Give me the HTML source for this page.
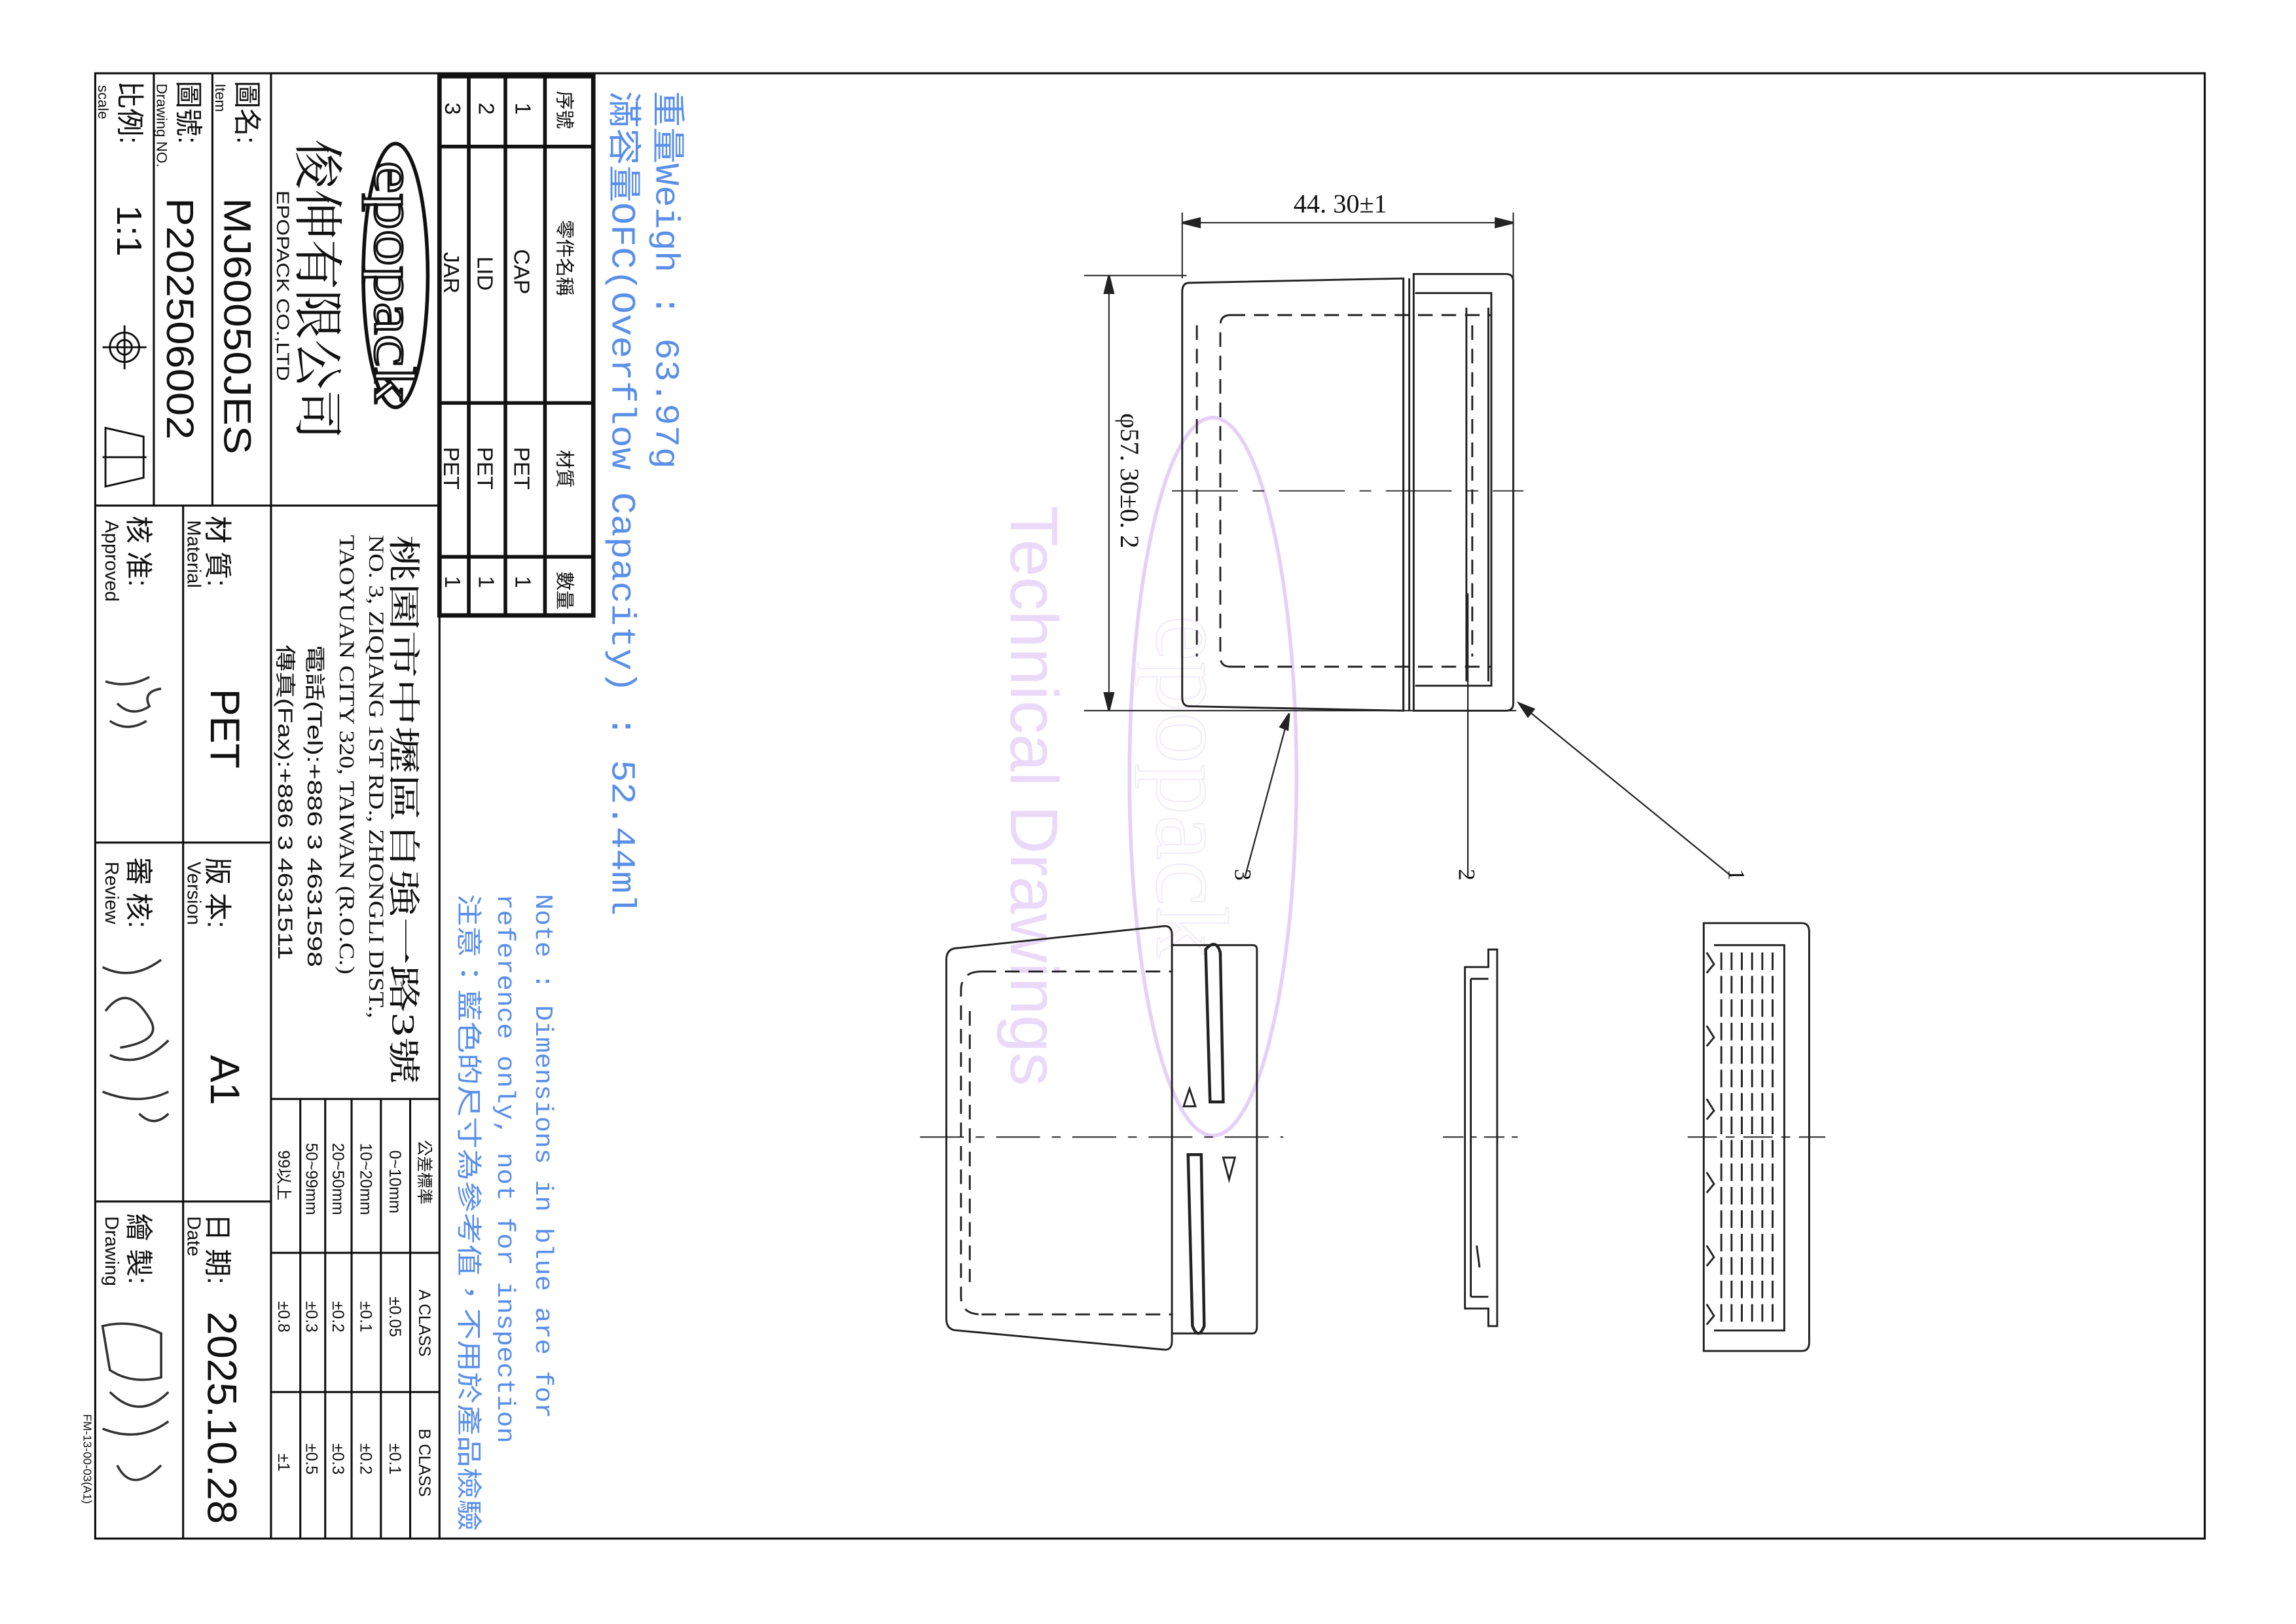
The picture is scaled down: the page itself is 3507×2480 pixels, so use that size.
<!DOCTYPE html>
<html><head><meta charset="utf-8"><style>
html,body{margin:0;padding:0;background:#fff;}
svg{display:block}
text{font-family:"Liberation Sans","Noto Sans CJK TC",sans-serif;fill:#111}
.s{font-family:"Liberation Serif","Noto Serif CJK SC",serif}
.b{fill:#5a8fe8}
.m{font-family:"Liberation Mono","Noto Sans CJK TC",monospace}
</style></head><body>
<svg width="3507" height="2480" viewBox="0 0 1567.3 1108.3" xmlns="http://www.w3.org/2000/svg">
<rect width="1570" height="1110" fill="#fff"/>
<ellipse cx="828" cy="530" rx="57" ry="245" fill="none" stroke="#e6d0f7" stroke-width="2.5"/>
<text transform="translate(690,345) rotate(90)" style="font-size:46px;fill:#ead9f8">Technical Drawings</text>
<text transform="translate(790,420) rotate(90)" style="font-size:70px;fill:none;stroke:#f1e8f8;stroke-width:0.8" class="s">epopack</text>

<g fill="none" stroke="#111" stroke-width="1.4">
<rect x="65" y="50" width="1440" height="1000"/>
<line x1="300" y1="50" x2="300" y2="1050"/>
<line x1="185" y1="50" x2="185" y2="1050"/>
<line x1="145" y1="50" x2="145" y2="345"/>
<line x1="105" y1="50" x2="105" y2="345"/>
<line x1="125" y1="345" x2="125" y2="1050"/>
<line x1="65" y1="345" x2="300" y2="345"/>
<line x1="65" y1="575" x2="185" y2="575"/>
<line x1="65" y1="820" x2="185" y2="820"/>
<line x1="185" y1="750" x2="300" y2="750"/>
<line x1="280" y1="750" x2="280" y2="1050"/>
<line x1="260" y1="750" x2="260" y2="1050"/>
<line x1="240" y1="750" x2="240" y2="1050"/>
<line x1="222" y1="750" x2="222" y2="1050"/>
<line x1="205" y1="750" x2="205" y2="1050"/>
<line x1="185" y1="855" x2="300" y2="855"/>
<line x1="185" y1="950" x2="300" y2="950"/>
<rect x="300" y="52" width="105" height="368" stroke-width="3"/>
<line x1="372" y1="52" x2="372" y2="420" stroke-width="2.5"/>
<line x1="345" y1="52" x2="345" y2="420" stroke-width="2.5"/>
<line x1="320" y1="52" x2="320" y2="420" stroke-width="2.5"/>
<line x1="300" y1="100" x2="405" y2="100" stroke-width="2.5"/>
<line x1="300" y1="275" x2="405" y2="275" stroke-width="2.5"/>
<line x1="300" y1="380" x2="405" y2="380" stroke-width="2.5"/>
</g>

<g>
<text transform="translate(82,55) rotate(90)" style="font-size:19px">比例:</text>
<text transform="translate(67,58) rotate(90)" style="font-size:10px">scale</text>
<text transform="translate(80,140) rotate(90)" style="font-size:24px" textLength="35" lengthAdjust="spacingAndGlyphs">1:1</text>
<text transform="translate(122,55) rotate(90)" style="font-size:19px">圖號:</text>
<text transform="translate(107,57) rotate(90)" style="font-size:10px">Drawing NO.</text>
<text transform="translate(114,135) rotate(90)" style="font-size:26px" textLength="165" lengthAdjust="spacingAndGlyphs">P202506002</text>
<text transform="translate(162,55) rotate(90)" style="font-size:19px">圖名:</text>
<text transform="translate(147,57) rotate(90)" style="font-size:10px">Item</text>
<text transform="translate(153,135) rotate(90)" style="font-size:26px" textLength="175" lengthAdjust="spacingAndGlyphs">MJ60050JES</text>
<text transform="translate(205,95) rotate(90)" style="font-size:34px" class="s" textLength="205" lengthAdjust="spacingAndGlyphs">俊伸有限公司</text>
<text transform="translate(189,130) rotate(90)" style="font-size:12px" textLength="130" lengthAdjust="spacingAndGlyphs">EPOPACK CO.,LTD</text>
<ellipse cx="270" cy="188" rx="22" ry="90" fill="none" stroke="#111" stroke-width="2.5"/>
<text transform="translate(256,110) rotate(90)" style="font-size:40px;fill:#fff;stroke:#111;stroke-width:1.5" class="s" textLength="165" lengthAdjust="spacingAndGlyphs">epopack</text>
</g>
<g fill="none" stroke="#111" stroke-width="1.3">
<circle cx="85" cy="237" r="10"/><circle cx="85" cy="237" r="5"/>
<line x1="70" y1="237" x2="100" y2="237"/><line x1="85" y1="222" x2="85" y2="252"/>
<path d="M72,292 L98,298 L98,326 L72,332 Z"/><line x1="70" y1="312" x2="100" y2="312"/>
</g>
<text transform="translate(142,352) rotate(90)" style="font-size:19px">材 質:</text>
<text transform="translate(128,355) rotate(90)" style="font-size:13px">Material</text>
<text transform="translate(144,470) rotate(90)" style="font-size:28px">PET</text>
<text transform="translate(88,352) rotate(90)" style="font-size:19px">核 准:</text>
<text transform="translate(72,355) rotate(90)" style="font-size:13px">Approved</text>
<text transform="translate(142,585) rotate(90)" style="font-size:19px">版 本:</text>
<text transform="translate(128,588) rotate(90)" style="font-size:13px">Version</text>
<text transform="translate(144,720) rotate(90)" style="font-size:28px">A1</text>
<text transform="translate(88,585) rotate(90)" style="font-size:19px">審 核:</text>
<text transform="translate(72,588) rotate(90)" style="font-size:13px">Review</text>
<text transform="translate(142,828) rotate(90)" style="font-size:19px">日 期:</text>
<text transform="translate(128,830) rotate(90)" style="font-size:13px">Date</text>
<text transform="translate(142,895) rotate(90)" style="font-size:28px" textLength="145" lengthAdjust="spacingAndGlyphs">2025.10.28</text>
<text transform="translate(88,828) rotate(90)" style="font-size:19px">繪 製:</text>
<text transform="translate(72,830) rotate(90)" style="font-size:13px">Drawing</text>
<g fill="none" stroke="#333" stroke-width="1.6">
<path d="M72,465 q15,5 30,-3 M80,480 q10,10 22,2 q-5,-10 8,-12 M75,492 q12,8 25,0"/>
<path d="M70,660 q20,10 40,-5 M72,690 q15,-20 30,5 q10,15 -20,20 M75,720 q20,10 40,-10 M70,745 q25,10 45,0 M95,760 q10,10 20,0"/>
<path d="M70,905 q20,-5 40,5 l0,30 q-20,5 -35,-5 z M75,950 q20,20 40,0 M70,975 q25,10 45,-5 M80,1000 q10,20 30,0"/>
</g>
<text transform="translate(268,365) rotate(90)" style="font-size:22px" class="s" textLength="375" lengthAdjust="spacingAndGlyphs">桃園市中壢區自強一路3號</text>
<text transform="translate(252,365) rotate(90)" style="font-size:14.5px" class="s" textLength="330" lengthAdjust="spacingAndGlyphs">NO. 3, ZIQIANG 1ST RD., ZHONGLI DIST.,</text>
<text transform="translate(232,365) rotate(90)" style="font-size:14.5px" class="s" textLength="300" lengthAdjust="spacingAndGlyphs">TAOYUAN CITY 320, TAIWAN (R.O.C.)</text>
<text transform="translate(210,440) rotate(90)" style="font-size:14px" textLength="220" lengthAdjust="spacingAndGlyphs">電話(Tel):+886 3 4631598</text>
<text transform="translate(190,440) rotate(90)" style="font-size:14px" textLength="215" lengthAdjust="spacingAndGlyphs">傳真(Fax):+886 3 4631511</text>
<g style="font-size:11px" class="s">
<text transform="translate(286,778) rotate(90)">公差標準</text>
<text transform="translate(286,880) rotate(90)">A CLASS</text>
<text transform="translate(286,975) rotate(90)">B CLASS</text>
<text transform="translate(266,785) rotate(90)">0~10mm</text>
<text transform="translate(266,885) rotate(90)">±0.05</text>
<text transform="translate(266,985) rotate(90)">±0.1</text>
<text transform="translate(246,780) rotate(90)">10~20mm</text>
<text transform="translate(246,888) rotate(90)">±0.1</text>
<text transform="translate(246,985) rotate(90)">±0.2</text>
<text transform="translate(227,780) rotate(90)">20~50mm</text>
<text transform="translate(227,888) rotate(90)">±0.2</text>
<text transform="translate(227,985) rotate(90)">±0.3</text>
<text transform="translate(209,780) rotate(90)">50~99mm</text>
<text transform="translate(209,888) rotate(90)">±0.3</text>
<text transform="translate(209,985) rotate(90)">±0.5</text>
<text transform="translate(190,785) rotate(90)">99以上</text>
<text transform="translate(190,888) rotate(90)">±0.8</text>
<text transform="translate(190,992) rotate(90)">±1</text>
</g>
<text transform="translate(57,965) rotate(90)" style="font-size:8px">FM-13-00-03(A1)</text>
<g style="font-size:15px">
<text transform="translate(381,62) rotate(90)" style="font-size:13px">序號</text>
<text transform="translate(381,150) rotate(90)" style="font-size:13px">零件名稱</text>
<text transform="translate(381,307) rotate(90)" style="font-size:13px">材質</text>
<text transform="translate(381,390) rotate(90)" style="font-size:13px">數量</text>
<text transform="translate(352,70) rotate(90)">1</text>
<text transform="translate(351,170) rotate(90)">CAP</text>
<text transform="translate(351,305) rotate(90)">PET</text>
<text transform="translate(352,393) rotate(90)">1</text>
<text transform="translate(327,70) rotate(90)">2</text>
<text transform="translate(326,175) rotate(90)">LID</text>
<text transform="translate(326,305) rotate(90)">PET</text>
<text transform="translate(327,393) rotate(90)">1</text>
<text transform="translate(304,70) rotate(90)">3</text>
<text transform="translate(303,172) rotate(90)">JAR</text>
<text transform="translate(303,305) rotate(90)">PET</text>
<text transform="translate(304,393) rotate(90)">1</text>
</g>
<text class="b m" transform="translate(448,62) rotate(90)" style="font-size:23px" textLength="258" lengthAdjust="spacingAndGlyphs">重量Weigh : 63.97g</text>
<text class="b m" transform="translate(418,62) rotate(90)" style="font-size:23px" textLength="563" lengthAdjust="spacingAndGlyphs">滿容量OFC(Overflow Capacity) : 52.44ml</text>
<text class="b m" transform="translate(366,610) rotate(90)" style="font-size:17px" textLength="358" lengthAdjust="spacingAndGlyphs">Note : Dimensions in blue are for</text>
<text class="b m" transform="translate(340,610) rotate(90)" style="font-size:17px" textLength="375" lengthAdjust="spacingAndGlyphs">reference only, not for inspection</text>
<text class="b" transform="translate(314,610) rotate(90)" style="font-size:17.5px" textLength="435" lengthAdjust="spacingAndGlyphs">注意：藍色的尺寸為參考值，不用於產品檢驗</text>

<g fill="none" stroke="#222" stroke-width="1.3">
<line x1="807" y1="145" x2="807" y2="190" stroke-width="0.9"/>
<line x1="1033" y1="145" x2="1033" y2="190" stroke-width="0.9"/>
<line x1="807" y1="152" x2="1033" y2="152" stroke-width="0.9"/>
<path d="M807,152 l12,-3 v6 z M1033,152 l-12,-3 v6 z" fill="#222"/>
<line x1="740" y1="188" x2="810" y2="188" stroke-width="0.9"/>
<line x1="740" y1="485" x2="1035" y2="485" stroke-width="0.9"/>
<line x1="757" y1="188" x2="757" y2="485" stroke-width="0.9"/>
<path d="M757,188 l-3,12 h6 z M757,485 l-3,-12 h6 z" fill="#222"/>
<path d="M812,193 L958,190 L958,485 L812,482 Q807,482 807,476 V199 Q807,193 812,193 Z"/>
<line x1="958" y1="190" x2="958" y2="485"/><line x1="962" y1="190" x2="962" y2="485"/>
<path d="M965,187 H1028 Q1033,187 1033,192 V480 Q1033,485 1028,485 H965 Z"/>
<path d="M966,200 H1018 V468 H966"/>
<line x1="1001" y1="210" x2="1001" y2="465"/><line x1="1016" y1="210" x2="1016" y2="465"/>
<path d="M840,215 H1018 M840,455 H1018 M840,215 Q833,215 833,222 V448 Q833,455 840,455 M817,222 V448 M1005,222 V448" stroke-dasharray="10,6"/>
<line x1="800" y1="335" x2="1040" y2="335" stroke-dasharray="45,10,8,10" stroke-width="0.8"/>
<line x1="1037" y1="480" x2="1182" y2="598" stroke-width="1"/>
<path d="M1037,480 l10,4 l-4,5 z" fill="#222"/>
<line x1="1002" y1="405" x2="1002" y2="598" stroke-width="1"/>
<line x1="880" y1="487" x2="850" y2="598" stroke-width="1"/>
<path d="M880,487 l-1,11 l-5,-2 z" fill="#222"/>
</g>
<text transform="translate(1180,593) rotate(90)" style="font-size:16px" class="s">1</text>
<text transform="translate(996,593) rotate(90)" style="font-size:16px" class="s">2</text>
<text transform="translate(843,593) rotate(90)" style="font-size:16px" class="s">3</text>
<text x="883" y="145" style="font-size:18px" class="s">44. 30±1</text>
<text transform="translate(765,282) rotate(90)" style="font-size:18px" class="s">φ57. 30±0. 2</text>

<g fill="none" stroke="#222" stroke-width="1.3">
<path d="M654,647 L795,632 Q800,632 800,638 V915 Q800,922 794,921 L654,908 Q646,908 646,900 V655 Q646,647 654,647 Z"/>
<path d="M800,645 H855 Q858,645 858,648 V905 Q858,910 855,910 H800"/>
<path d="M823,648 Q830,640 833,650 L835,752 H826 Z" stroke-width="2"/>
<path d="M811,788 H820 L822,905 Q818,915 814,905 Z" stroke-width="2"/>
<path d="M808,755 L812,743 L816,755 Z M835,790 L843,790 L839,805 Z"/>
<path d="M670,663 H800 M670,897 H800 M670,663 Q656,663 656,676 V885 Q656,897 670,897 M662,690 V875" stroke-dasharray="10,6"/>
<line x1="628" y1="776" x2="876" y2="776" stroke-dasharray="30,8,6,8" stroke-width="0.9"/>
<path d="M1000,660 H1016 V648 H1022 V905 H1016 V893 H1000 Z"/>
<line x1="1004" y1="668" x2="1004" y2="885"/>
<line x1="1004" y1="668" x2="1016" y2="668"/><line x1="1004" y1="885" x2="1016" y2="885"/>
<line x1="1008" y1="850" x2="1010" y2="865"/>
<line x1="985" y1="776" x2="1040" y2="776" stroke-dasharray="14,5,4,5" stroke-width="0.9"/>
<path d="M1163,630 H1230 Q1235,630 1235,636 V916 Q1235,922 1230,922 H1163 Z"/>
<path d="M1170,645 H1218 V908 H1170"/>
<path d="M1175,650 V905 M1182,650 V905 M1189,650 V905 M1196,650 V905 M1203,650 V905 M1210,650 V905" stroke-dasharray="12,4"/>
<path d="M1165,650 l5,8 l-5,6 M1165,700 l5,8 l-5,6 M1165,750 l5,8 l-5,6 M1165,800 l5,8 l-5,6 M1165,850 l5,8 l-5,6 M1165,890 l5,8 l-5,6"/>
<line x1="1152" y1="776" x2="1246" y2="776" stroke-dasharray="20,6,6,6" stroke-width="0.9"/>
</g>
</svg>
</body></html>
